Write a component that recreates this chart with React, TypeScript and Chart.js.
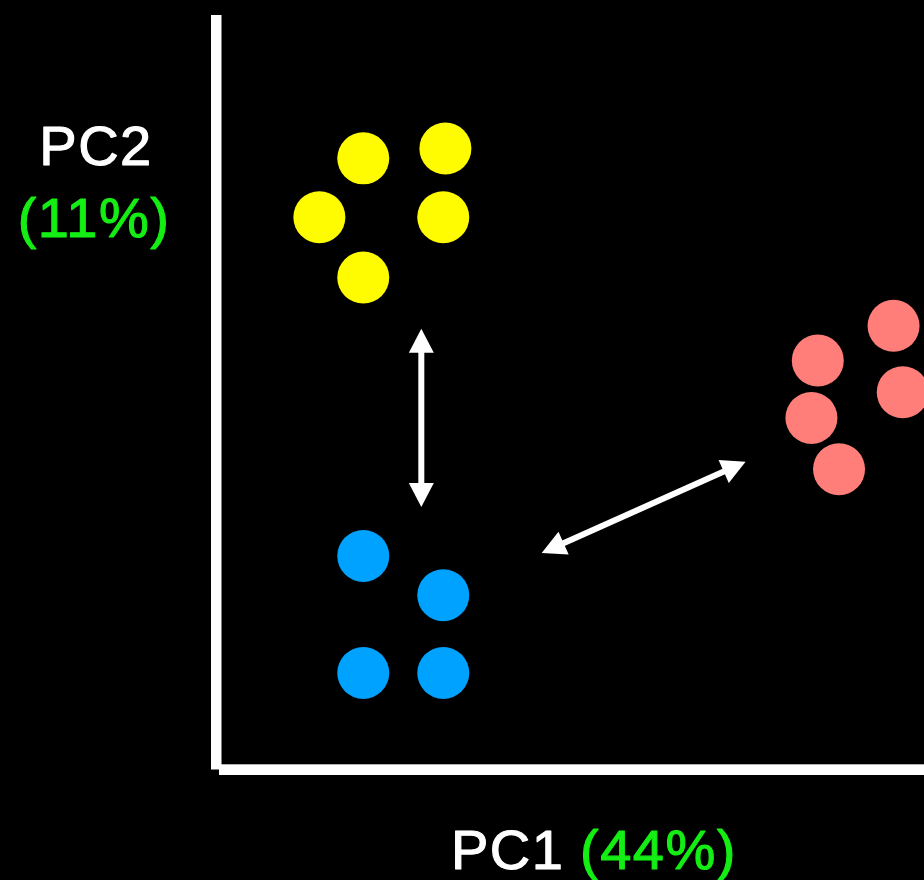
import React, { useEffect, useRef } from "react";
import { Chart, registerables } from "chart.js";

Chart.register(...registerables);

// ---- data (PC1 / PC2 scores, arbitrary units) ----
const yellowX = [2.08, 3.24, 1.46, 3.21, 2.08];
const yellowY = [8.1, 8.23, 7.32, 7.32, 6.52];
const blueX = [2.08, 3.21, 2.08, 3.21];
const blueY = [2.83, 2.31, 1.28, 1.28];
const redX = [9.57, 8.5, 8.41, 9.7, 8.8];
const redY = [5.88, 5.42, 4.66, 5.0, 3.98];

// double-headed arrows between groups (data units)
const arrowStartX = [2.9, 4.6];
const arrowStartY = [5.84, 2.87];
const arrowEndX = [2.9, 7.48];
const arrowEndY = [3.48, 4.08];

const xAxisName = "PC1";
const xAxisPct = "(44%)";
const yAxisName = "PC2";
const yAxisPct = "(11%)";

const toPoints = (xs: number[], ys: number[]) => xs.map((x, i) => ({ x, y: ys[i] }));

const FONT = '56px "Liberation Sans", Arial, Helvetica, sans-serif';
const GREEN = "#14EE14";

const decorPlugin = {
  id: "decor",
  afterDraw(chart: any) {
    const { ctx, chartArea, scales } = chart;
    const xs = scales.x;
    const ys = scales.y;
    ctx.save();
    // axes
    ctx.fillStyle = "#ffffff";
    ctx.fillRect(chartArea.left - 5, chartArea.top, 10.5, chartArea.bottom - chartArea.top);
    ctx.fillRect(chartArea.left + 3, chartArea.bottom - 5.2, chartArea.right - chartArea.left, 10.7);

    // arrows
    const headLen = 24;
    const headHalf = 12.5;
    ctx.strokeStyle = "#ffffff";
    ctx.lineWidth = 6;
    for (let i = 0; i < arrowStartX.length; i++) {
      const x1 = xs.getPixelForValue(arrowStartX[i]);
      const y1 = ys.getPixelForValue(arrowStartY[i]);
      const x2 = xs.getPixelForValue(arrowEndX[i]);
      const y2 = ys.getPixelForValue(arrowEndY[i]);
      const len = Math.hypot(x2 - x1, y2 - y1);
      const ux = (x2 - x1) / len;
      const uy = (y2 - y1) / len;
      const px = -uy;
      const py = ux;
      ctx.beginPath();
      ctx.moveTo(x1 + ux * (headLen - 2), y1 + uy * (headLen - 2));
      ctx.lineTo(x2 - ux * (headLen - 2), y2 - uy * (headLen - 2));
      ctx.stroke();
      const head = (tx: number, ty: number, dx: number, dy: number) => {
        const bx = tx - dx * headLen;
        const by = ty - dy * headLen;
        ctx.beginPath();
        ctx.moveTo(tx, ty);
        ctx.lineTo(bx + px * headHalf, by + py * headHalf);
        ctx.lineTo(bx - px * headHalf, by - py * headHalf);
        ctx.closePath();
        ctx.fill();
      };
      head(x2, y2, ux, uy);
      head(x1, y1, -ux, -uy);
    }

    // axis labels (slightly emboldened with a thin stroke)
    ctx.font = FONT;
    try {
      (ctx as any).letterSpacing = "1.5px";
    } catch (e) {
      /* ignore */
    }
    ctx.textBaseline = "alphabetic";
    ctx.lineWidth = 1.1;
    ctx.lineJoin = "round";
    const txt = (s: string, x: number, y: number, color: string) => {
      ctx.fillStyle = color;
      ctx.strokeStyle = color;
      ctx.fillText(s, x, y);
      ctx.strokeText(s, x, y);
    };
    ctx.textAlign = "center";
    txt(yAxisName, 96, 165, "#ffffff");
    txt(yAxisPct, 94, 237, GREEN);

    ctx.textAlign = "left";
    txt(xAxisName, 451, 869, "#ffffff");
    txt(xAxisPct, 580, 869, GREEN);
    ctx.restore();
  },
};

export default function App() {
  const ref = useRef<HTMLCanvasElement | null>(null);

  useEffect(() => {
    if (!ref.current) return;
    const chart = new Chart(ref.current, {
      type: "scatter",
      data: {
        datasets: [
          {
            label: "Group 1",
            data: toPoints(yellowX, yellowY),
            backgroundColor: "#FFFB00",
            borderWidth: 0,
            pointRadius: 26,
            pointHoverRadius: 26,
            clip: false as any,
          },
          {
            label: "Group 2",
            data: toPoints(blueX, blueY),
            backgroundColor: "#00A2FF",
            borderWidth: 0,
            pointRadius: 26,
            pointHoverRadius: 26,
            clip: false as any,
          },
          {
            label: "Group 3",
            data: toPoints(redX, redY),
            backgroundColor: "#FF7E79",
            borderWidth: 0,
            pointRadius: 26,
            pointHoverRadius: 26,
            clip: false as any,
          },
        ],
      },
      options: {
        responsive: false,
        animation: false,
        devicePixelRatio: 1,
        layout: { autoPadding: false, padding: { left: 216, right: 0, top: 15, bottom: 110.5 } },
        plugins: { legend: { display: false }, tooltip: { enabled: false } },
        scales: {
          x: { type: "linear", min: 0, max: 10, display: false },
          y: { type: "linear", min: 0, max: 10, display: false },
        },
      },
      plugins: [decorPlugin],
    });
    return () => chart.destroy();
  }, []);

  return (
    <div
      style={{
        position: "fixed",
        left: 0,
        top: 0,
        width: 924,
        height: 880,
        background: "#000000",
        overflow: "hidden",
      }}
    >
      <canvas ref={ref} width={924} height={880} style={{ display: "block" }} />
    </div>
  );
}
